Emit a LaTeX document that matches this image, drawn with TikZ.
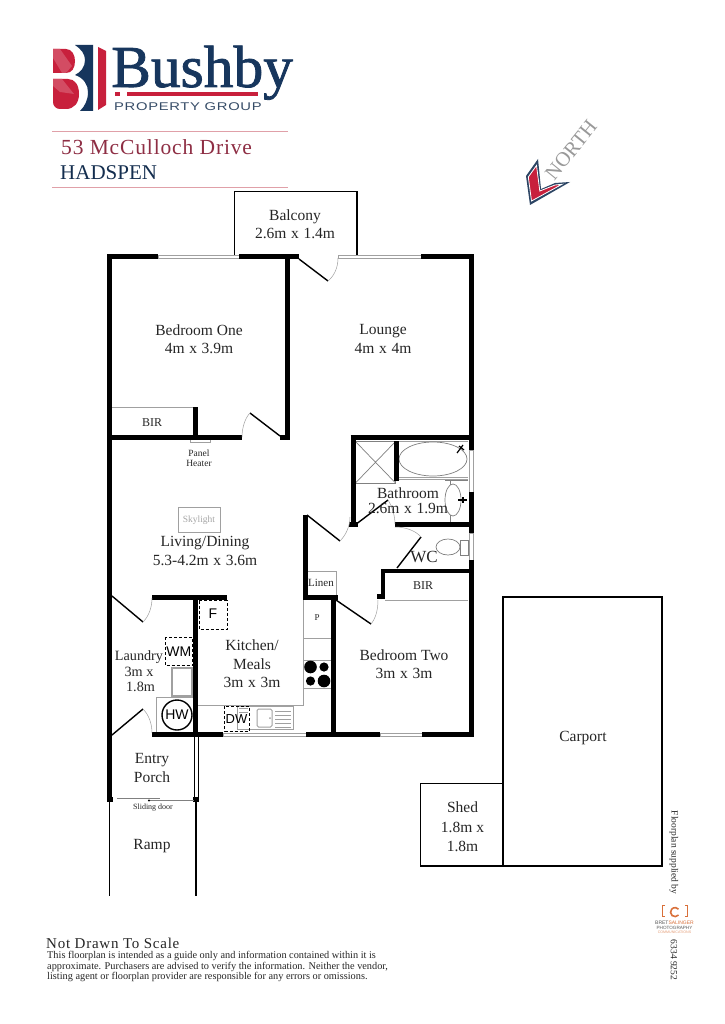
\documentclass[tikz,border=0pt]{standalone}
\usepackage{fontspec}
\setmainfont{Liberation Serif}
\newfontfamily\sansf{Liberation Sans}
\newcommand{\fs}[1]{\fontsize{#1}{#1}\selectfont}
\newcommand{\xx}{\hspace{.3em}x\hspace{.3em}}
\definecolor{navy}{HTML}{17365D}
\definecolor{lred}{HTML}{C8203C}
\definecolor{pinkl}{HTML}{E0A0A8}
\definecolor{graybr}{HTML}{A0A0A0}
\definecolor{inkt}{HTML}{262626}
\definecolor{wine}{HTML}{8E2E44}
\definecolor{orng}{HTML}{D9703A}
\tikzset{
  lab/.style={inner sep=0,align=center,text=inkt,font=\fs{15.5},execute at begin node={\baselineskip=18.5pt}},
  small/.style={inner sep=0,align=center,text=inkt,font=\fs{12}},
  sanslab/.style={inner sep=0,align=center,text=black,font=\sansf\fs{14}},
  wall/.style={line width=5pt,black,line cap=butt,line join=miter},
  thinblk/.style={line width=1.8pt,black,line join=miter},
  leaf/.style={line width=1.4pt,black},
  swing/.style={line width=.5pt,graybr},
  fitting/.style={line width=1pt,graybr},
  dash box/.style={line width=1pt,black,densely dashed},
  winbox/.style={line width=.7pt,graybr,fill=white},
}
\begin{document}
\begin{tikzpicture}[x=1pt,y=-1pt]
\useasboundingbox (0,0) rectangle (724,1024);
\fill[white] (0,0) rectangle (724,1024);
% logo
\fill[lred] (53,49) -- (66,49) .. controls (72,49) and (75,55) .. (75,61) .. controls (75,68) and (72,73) .. (66,73) -- (53,73) -- cycle;
\fill[lred!80!white] (53,49) -- (60,49) -- (72,66) -- (66,73) -- (62,73) -- (53,58) -- cycle;
\fill[lred] (53,79) -- (68,79) .. controls (75,79) and (79,85) .. (79,94) .. controls (79,103) and (74,109) .. (66,109) -- (60,109) .. controls (56,109) and (53,106) .. (53,102) -- cycle;
\fill[lred!80!white] (53,79) -- (62,79) -- (74,94) -- (60,92) -- (53,86) -- cycle;
\fill[navy] (75,45) -- (93,45) -- (93,111) -- (80,111) .. controls (85,106) and (88,100) .. (88,92) .. controls (88,85) and (84,78) .. (75,75) .. controls (81,72) and (85,67) .. (85,60) .. controls (85,54) and (81,49) .. (75,45) -- cycle;
\fill[lred] (98,47) -- (106,51) -- (106,105) -- (98,110) -- cycle;
\node[inner sep=0,text=navy,anchor=base west,font=\fs{59.5}] (brand) at (111,87) {\addfontfeature{FakeBold=1.3}Bushby};
\fill[lred] (127,92.5) rectangle (258,96.5);
\fill[lred] (115,92.5) rectangle (120,96.5);
\node[inner sep=0,anchor=base west,text=navy!70!gray,font=\sansf\fs{11.2}] (group) at (114,111) {\addfontfeature{LetterSpace=6,FakeStretch=1.32}PROPERTY GROUP};
\draw[pinkl,line width=.9pt] (52,131) -- (288,131);
\draw[pinkl,line width=.9pt] (52,187) -- (288,187);
\node[inner sep=0,anchor=base west,text=wine,font=\fs{21.5}] (addr) at (61,154.5) {\addfontfeature{LetterSpace=4}53 McCulloch Drive};
\node[inner sep=0,anchor=base west,text=navy!85!black,font=\fs{21}] (town) at (60,180) {HADSPEN};
% north
\fill[navy!80!gray] (538,159) -- (526,176) -- (530,205) -- (570,182) -- (555,183) -- (541,189) -- cycle;
\fill[lred,draw=white,line width=.8pt] (536.5,165.5) -- (528.3,177) -- (531.5,201) -- (562,184.3) -- (555,185) -- (539.8,191) -- cycle;
\node[inner sep=0,text=gray!80,font=\fs{20.5},rotate=51] (north) at (571,150) {NORTH};
% balcony, carport, shed
\draw[thinblk] (234.5,256) -- (234.5,191.5) -- (357,191.5) -- (357,256);
\draw[thinblk] (420.5,783.5) rectangle (503,866);
\draw[thinblk] (503,597) rectangle (662,866);
% windows
\draw[winbox] (158,255) rectangle (239,258.5);
\draw[winbox] (338,255) rectangle (421,258.5);
\draw[winbox] (223,733) rectangle (306,736.5);
\draw[winbox] (380,733) rectangle (422,736.5);
\draw[winbox] (469,450) rectangle (473,492);
\draw[winbox] (469,533) rectangle (473,560);
% fittings
\draw[fitting] (110,407) -- (195,407);
\draw[fitting] (190,438) rectangle (210,442);
\draw[fitting] (178.5,507) rectangle (220,532);
% bathroom fittings
\draw[fitting,line width=.8pt,gray] (355.5,441.5) rectangle (395.5,483);
\draw[fitting,line width=.7pt,gray] (355.5,441.5) -- (395.5,483) (355.5,483) -- (395.5,441.5);
\draw[fitting] (398,441) -- (468,441) (398,477.5) -- (468,477.5) (398,479.5) -- (468,479.5);
\draw[fitting,line width=.7pt,gray] (433,459) ellipse [x radius=34,y radius=17];
\draw[line width=1.2pt] (457,453) -- (463,445) (459,446) -- (464,450);
\draw[fitting,line width=.7pt,gray] (450,480) -- (450,522);
\draw[fitting,line width=.7pt,gray] (445,480) -- (468,480);
\draw[fitting,line width=.7pt,gray,fill=white] (453,500) ellipse [x radius=8,y radius=16];
\draw[line width=1.2pt] (458,500) -- (467,500) (463,497) -- (463,503);
\draw[fitting,line width=.7pt,gray] (448,547) ellipse [x radius=12,y radius=8];
\draw[fitting,line width=.7pt,gray] (460,540) rectangle (468,555);
\draw[fitting] (385,600) -- (468,600);
% linen
\draw[fitting] (307,571) -- (336,571) -- (336,596);
% kitchen
\draw[fitting] (303,597) -- (303,705) -- (198,705);
\draw[fitting] (303,638) -- (331,638);
\draw[fitting] (303,660) rectangle (331,688);
\fill (310.5,667) circle (6.3) (324,667) circle (4.6) (310.5,681) circle (4.6) (324,681) circle (6.3);
\draw[fitting] (237,706) rectangle (293,729);
\draw[fitting,rounded corners=1.5pt] (257,709) rectangle (272,727);
\foreach \yy in {711,715,719,723,727} \draw[fitting,line width=.6pt] (275,\yy) -- (291,\yy);
\draw[fitting,line width=.6pt] (239,708) -- (248,708) (239,712) -- (248,712);
\fill[graybr] (270,718) circle (1);
\draw[dash box] (224.5,706) rectangle (249,731);
\draw[dash box] (199,600.5) rectangle (227,629);
\draw[dash box] (165,637) rectangle (192.5,665.5);
\draw[line width=1.4pt,graybr] (172,668) rectangle (192,696);
\draw[fitting] (193,697) -- (156,697) -- (156,732);
\draw[line width=1.4pt,black] (177,715) circle (15);
% walls
\draw[wall,line width=5.5pt] (109.5,800) -- (109.5,256.5) -- (158,256.5);
\draw[wall] (239,256.5) -- (299,256.5);
\draw[wall] (287.5,256.5) -- (287.5,440);
\draw[wall] (109.5,437.5) -- (242,437.5);
\draw[wall] (195.5,407) -- (195.5,437.5);
\draw[wall] (280,437.5) -- (290,437.5);
\draw[wall] (421,256.5) -- (471,256.5) -- (471,450);
\draw[wall] (471,492) -- (471,533);
\draw[wall] (471,560) -- (471,737);
\draw[wall] (350.5,437.5) -- (471,437.5);
\draw[wall] (353,437.5) -- (353,527);
\fill (349,522) rectangle (358,527);
\draw[wall] (396,441) -- (396,481);
\draw[wall] (395,524) -- (471,524);
\draw[wall,line width=4pt] (383,599) -- (383,571) -- (471,571);
\fill (377,594) rectangle (385,599);
\draw[wall] (305,515) -- (305,599.5);
\draw[wall] (305,597.5) -- (338,597.5);
\draw[wall] (333,597) -- (333,737);
\draw[wall] (152,597.5) -- (227,597.5);
\draw[wall] (195.5,597.5) -- (195.5,737);
\draw[wall] (152,734.5) -- (223,734.5);
\draw[wall] (306,734.5) -- (380,734.5);
\draw[wall] (422,734.5) -- (471,734.5);
% entry and ramp
\draw[line width=1pt] (194,735) -- (194,798) (198,735) -- (198,798);
\fill (193,797) rectangle (199,802);
\fill (107,797) rectangle (113,802);
\draw[line width=1.4pt] (109.5,800) -- (109.5,896);
\draw[line width=1.4pt] (196,800) -- (196,896);
\draw[fitting,gray,line width=.8pt] (117,798) -- (160,798) (150,800.5) -- (194,800.5);
\fill (149,800.5) circle (1.2);
% doors
\draw[leaf] (280,436) -- (250,413);
\draw[swing] (250,413) .. controls (245,418) and (242,428) .. (242,437);
\draw[leaf] (299,259) -- (328,281);
\draw[swing] (328,281) .. controls (334,276) and (338,268) .. (338,258);
\draw[leaf] (112,596) -- (143,622);
\draw[swing] (143,622) .. controls (149,616) and (152,607) .. (152,598);
\draw[leaf] (112,735) -- (143,709);
\draw[swing] (143,709) .. controls (149,715) and (152,724) .. (152,733);
\draw[leaf] (307,515) -- (340,541);
\draw[swing] (340,541) .. controls (346,535) and (350,526) .. (350,517);
\draw[leaf] (355,525) -- (388,500);
\draw[swing] (388,500) .. controls (392,506) and (395,516) .. (395,524);
\draw[leaf] (421,537) -- (397,568);
\draw[swing] (395,527) .. controls (406,527) and (416,531) .. (421,537);
\draw[leaf] (336,600) -- (371,624);
\draw[swing] (371,624) .. controls (376,618) and (378,609) .. (378,600);
% labels
\node[lab] (balcony) at (295,224) {Balcony\\2.6m\xx 1.4m};
\node[lab] (bed1) at (199,339) {Bedroom One\\4m\xx 3.9m};
\node[lab] (lounge) at (383,339) {Lounge\\4m\xx 4m};
\node[small] (bir1) at (152,423) {BIR};
\node[small] (bir2) at (423,586) {BIR};
\node[small,font=\fs{9.5},execute at begin node={\baselineskip=10pt}] (heater) at (199,458) {Panel\\Heater};
\node[small,font=\fs{9.5},text=gray!70] (sky) at (199,520) {Skylight};
\node[lab] (living) at (205,551) {Living/Dining\\5.3-4.2m\xx 3.6m};
\node[lab,execute at begin node={\baselineskip=15.5pt}] (bath) at (408,500.5) {Bathroom\\2.6m\xx 1.9m};
\node[lab,font=\fs{17}] (wc) at (424,557) {WC};
\node[small,font=\fs{11}] (linen) at (321,583) {Linen};
\node[lab] (kitchen) at (252,664) {Kitchen/\\Meals\\3m\xx 3m};
\node[lab,font=\fs{14.2},execute at begin node={\baselineskip=15.5pt}] (laundry) at (139,671.5) {Laundry\\3m x\\\hspace{3pt}1.8m};
\node[lab] (bed2) at (404,664) {Bedroom Two\\3m\xx 3m};
\node[small,font=\fs{9}] (pan) at (317,618) {P};
\node[sanslab] (wm) at (178.8,651.5) {WM};
\node[sanslab] (fr) at (213,614) {F};
\node[sanslab] (hw) at (177,715) {HW};
\node[sanslab,font=\sansf\fs{13}] (dw) at (236.5,719) {DW};
\node[lab,execute at begin node={\baselineskip=19.5pt}] (entry) at (152,768) {Entry\\Porch};
\node[small,font=\fs{8}] (slide) at (153,808) {Sliding door};
\node[lab] (ramp) at (152,846.5) {Ramp};
\node[lab] (carport) at (583,738) {Carport};
\node[lab,execute at begin node={\baselineskip=19.5pt}] (shed) at (462.5,827) {Shed\\1.8m x\\1.8m};
\node[inner sep=0,anchor=base west,text=inkt,font=\fs{15}] (scale) at (46,948) {\addfontfeature{LetterSpace=5}Not Drawn To Scale};
\node[inner sep=0,anchor=north west,align=left,text=inkt,font=\fs{10.3},execute at begin node={\baselineskip=10.3pt}] (disc) at (47,951.5) {This floorplan is intended as a guide only and information contained within it is\\approximate. Purchasers are advised to verify the information. Neither the vendor,\\listing agent or floorplan provider are responsible for any errors or omissions.};
% credit
\node[inner sep=0,rotate=-90,text=inkt,font=\fs{9.5}] (supp) at (674,852.5) {Floorplan supplied by};
\node[inner sep=0,rotate=-90,text=inkt,font=\fs{9.5}] (tel) at (674,960) {6334 9252};
\draw[orng,line width=.9pt] (665,905) -- (662.5,905) -- (662.5,916) -- (665,916) (685,905) -- (687.5,905) -- (687.5,916) -- (685,916);
\draw[orng,line width=1.6pt] (678.5,915) arc[start angle=40,end angle=320,radius=4.5];
\node[inner sep=0,font=\sansf\fs{5}] (bret) at (674.5,923) {\textcolor{gray!70!black}{BRET}\textcolor{orng}{SALINGER}};
\node[inner sep=0,text=gray!70!black,font=\sansf\fs{4.6}] (photo) at (674.5,928) {PHOTOGRAPHY};
\node[inner sep=0,text=orng!70,font=\sansf\fs{3.6}] (comm) at (674.5,932.5) {COMMUNICATIONS};
\end{tikzpicture}
\end{document}
